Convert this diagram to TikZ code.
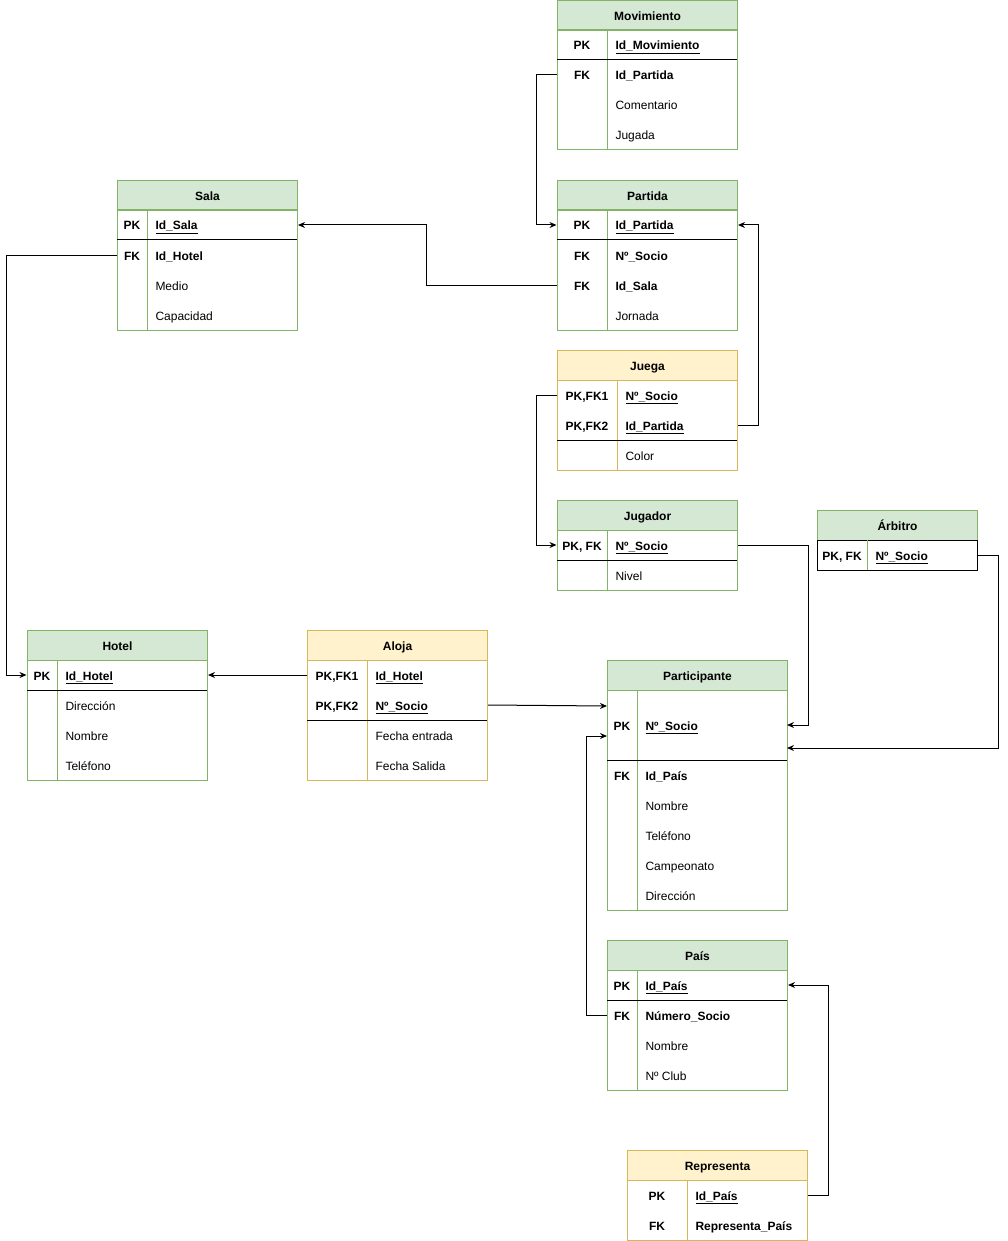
\documentclass[tikz,border=0pt]{standalone}
\usepackage{fontspec}
\setmainfont{Liberation Sans}
\usetikzlibrary{arrows.meta}
\definecolor{verdefondo}{HTML}{D5E8D4}
\definecolor{verdeborde}{HTML}{82B366}
\definecolor{amarillofondo}{HTML}{FFF2CC}
\definecolor{amarilloborde}{HTML}{D6B656}
\newcommand\letra{\fontsize{12}{14}\selectfont}

\tikzset{
  cabecera/.style={draw=#1borde, fill=#1fondo, minimum width=180pt, minimum height=30pt,
    inner sep=0pt, anchor=north west, font=\letra\bfseries, text height=10pt, text depth=0pt},
  clave/.style={minimum width=#1, minimum height=30pt, inner sep=0pt, font=\letra\bfseries,
    text height=10pt, text depth=0pt},
  campo/.style={anchor=west, inner sep=0pt, font=\letra, text height=10pt, text depth=0pt},
  enlace/.style={-{Stealth[length=7pt,width=6pt]}, line width=1pt},
}

\begin{document}
\begin{tikzpicture}[x=1pt, y=-1pt, line width=1pt]
			%%%%% LIENZO %%%%%
			\fill[white] (0,0) rectangle (1007,1241);
			\useasboundingbox (0,0) rectangle (1007,1241);
			
			%%%%% MOVIMIENTO %%%%%
			\node[cabecera=verde] (movimiento) at (557,0) {Movimiento};
			\draw[verdeborde] (557,30) rectangle (737,150);
			\draw[verdeborde] (607,30) -- (607,150);
			\draw (557,60) -- (737,60);
			\node[clave=50pt] (mov-pk) at (582,45) {PK};
			\node[campo] (mov-pk-c) at (615,45) {\textbf{\underline{Id\_Movimiento}}};
			\node[clave=50pt] (mov-fk) at (582,75) {FK};
			\node[campo] (mov-fk-c) at (615,75) {\textbf{Id\_Partida}};
			\node[campo] (mov-com) at (615,105) {Comentario};
			\node[campo] (mov-jug) at (615,135) {Jugada};
			
			%%%%% SALA %%%%%
			\node[cabecera=verde] (sala) at (117,180) {Sala};
			\draw[verdeborde] (117,210) rectangle (297,330);
			\draw[verdeborde] (147,210) -- (147,330);
			\draw (117,240) -- (297,240);
			\node[clave=30pt] (sala-pk) at (132,225) {PK};
			\node[campo] (sala-pk-c) at (155,225) {\textbf{\underline{Id\_Sala}}};
			\node[clave=30pt] (sala-fk) at (132,255) {FK};
			\node[campo] (sala-fk-c) at (155,255) {\textbf{Id\_Hotel}};
			\node[campo] (sala-med) at (155,285) {Medio};
			\node[campo] (sala-cap) at (155,315) {Capacidad};
			
			%%%%% PARTIDA %%%%%
			\node[cabecera=verde] (partida) at (557,180) {Partida};
			\draw[verdeborde] (557,210) rectangle (737,330);
			\draw[verdeborde] (607,210) -- (607,330);
			\draw (557,240) -- (737,240);
			\node[clave=50pt] (par-pk) at (582,225) {PK};
			\node[campo] (par-pk-c) at (615,225) {\textbf{\underline{Id\_Partida}}};
			\node[clave=50pt] (par-socio) at (582,255) {FK};
			\node[campo] (par-socio-c) at (615,255) {\textbf{Nº\_Socio}};
			\node[clave=50pt] (par-sala) at (582,285) {FK};
			\node[campo] (par-sala-c) at (615,285) {\textbf{Id\_Sala}};
			\node[campo] (par-jor) at (615,315) {Jornada};
			
			%%%%% JUEGA %%%%%
			\node[cabecera=amarillo] (juega) at (557,350) {Juega};
			\draw[amarilloborde] (557,380) rectangle (737,470);
			\draw[amarilloborde] (617,380) -- (617,470);
			\draw (557,440) -- (737,440);
			\node[clave=60pt] (jue-fk1) at (587,395) {PK,FK1};
			\node[campo] (jue-fk1-c) at (625,395) {\textbf{\underline{Nº\_Socio}}};
			\node[clave=60pt] (jue-fk2) at (587,425) {PK,FK2};
			\node[campo] (jue-fk2-c) at (625,425) {\textbf{\underline{Id\_Partida}}};
			\node[campo] (jue-col) at (625,455) {Color};
			
			%%%%% JUGADOR %%%%%
			\node[cabecera=verde] (jugador) at (557,500) {Jugador};
			\draw[verdeborde] (557,530) rectangle (737,590);
			\draw[verdeborde] (607,530) -- (607,590);
			\draw (557,560) -- (737,560);
			\node[clave=50pt] (jug-pk) at (582,545) {PK, FK};
			\node[campo] (jug-pk-c) at (615,545) {\textbf{\underline{Nº\_Socio}}};
			\node[campo] (jug-niv) at (615,575) {Nivel};
			
			%%%%% ARBITRO %%%%%
			\node[cabecera=verde, minimum width=160pt] (arbitro) at (817,510) {Árbitro};
			\draw (817,540) rectangle (977,570);
			\draw[verdeborde] (867,540) -- (867,570);
			\node[clave=50pt] (arb-pk) at (842,555) {PK, FK};
			\node[campo] (arb-pk-c) at (875,555) {\textbf{\underline{Nº\_Socio}}};
			
			%%%%% HOTEL %%%%%
			\node[cabecera=verde] (hotel) at (27,630) {Hotel};
			\draw[verdeborde] (27,660) rectangle (207,780);
			\draw[verdeborde] (57,660) -- (57,780);
			\draw (27,690) -- (207,690);
			\node[clave=30pt] (hot-pk) at (42,675) {PK};
			\node[campo] (hot-pk-c) at (65,675) {\textbf{\underline{Id\_Hotel}}};
			\node[campo] (hot-dir) at (65,705) {Dirección};
			\node[campo] (hot-nom) at (65,735) {Nombre};
			\node[campo] (hot-tel) at (65,765) {Teléfono};
			
			%%%%% ALOJA %%%%%
			\node[cabecera=amarillo] (aloja) at (307,630) {Aloja};
			\draw[amarilloborde] (307,660) rectangle (487,780);
			\draw[amarilloborde] (367,660) -- (367,780);
			\draw (307,720) -- (487,720);
			\node[clave=60pt] (alo-fk1) at (337,675) {PK,FK1};
			\node[campo] (alo-fk1-c) at (375,675) {\textbf{\underline{Id\_Hotel}}};
			\node[clave=60pt] (alo-fk2) at (337,705) {PK,FK2};
			\node[campo] (alo-fk2-c) at (375,705) {\textbf{\underline{Nº\_Socio}}};
			\node[campo] (alo-ent) at (375,735) {Fecha entrada};
			\node[campo] (alo-sal) at (375,765) {Fecha Salida};
			
			%%%%% PARTICIPANTE %%%%%
			\node[cabecera=verde] (participante) at (607,660) {Participante};
			\draw[verdeborde] (607,690) rectangle (787,910);
			\draw[verdeborde] (637,690) -- (637,910);
			\draw (607,760) -- (787,760);
			\node[clave=30pt, minimum height=70pt] (part-pk) at (622,725) {PK};
			\node[campo] (part-pk-c) at (645,725) {\textbf{\underline{Nº\_Socio}}};
			\node[clave=30pt] (part-fk) at (622,775) {FK};
			\node[campo] (part-fk-c) at (645,775) {\textbf{Id\_País}};
			\node[campo] (part-nom) at (645,805) {Nombre};
			\node[campo] (part-tel) at (645,835) {Teléfono};
			\node[campo] (part-cam) at (645,865) {Campeonato};
			\node[campo] (part-dir) at (645,895) {Dirección};
			\coordinate (part-l1) at (607,706);
			\coordinate (part-l2) at (607,736);
			\coordinate (part-r1) at (787,725);
			\coordinate (part-r2) at (787,748);
			
			%%%%% PAIS %%%%%
			\node[cabecera=verde] (pais) at (607,940) {País};
			\draw[verdeborde] (607,970) rectangle (787,1090);
			\draw[verdeborde] (637,970) -- (637,1090);
			\draw (607,1000) -- (787,1000);
			\node[clave=30pt] (pais-pk) at (622,985) {PK};
			\node[campo] (pais-pk-c) at (645,985) {\textbf{\underline{Id\_País}}};
			\node[clave=30pt] (pais-fk) at (622,1015) {FK};
			\node[campo] (pais-fk-c) at (645,1015) {\textbf{Número\_Socio}};
			\node[campo] (pais-nom) at (645,1045) {Nombre};
			\node[campo] (pais-club) at (645,1075) {Nº Club};
			
			%%%%% REPRESENTA %%%%%
			\node[cabecera=amarillo] (representa) at (627,1150) {Representa};
			\draw[amarilloborde] (627,1180) rectangle (807,1240);
			\draw[amarilloborde] (687,1180) -- (687,1240);
			\node[clave=60pt] (rep-pk) at (657,1195) {PK};
			\node[campo] (rep-pk-c) at (695,1195) {\textbf{\underline{Id\_País}}};
			\node[clave=60pt] (rep-fk) at (657,1225) {FK};
			\node[campo] (rep-fk-c) at (695,1225) {\textbf{Representa\_País}};
			
			%%%%% ENLACES %%%%%
			\draw[enlace] (mov-fk.west) -- ++(-20,0) |- (par-pk.west);
			\draw[enlace] (par-sala.west) -- ++(-130,0) |- (sala-pk -| sala.east);
			\draw[enlace] (sala-fk.west) -- ++(-110,0) |- (hot-pk.west);
			\draw[enlace] (jue-fk2 -| juega.east) -- ++(20,0) |- (par-pk -| partida.east);
			\draw[enlace] (jue-fk1.west) -- ++(-20,0) |- (jug-pk.west);
			\draw[enlace] (jug-pk -| jugador.east) -- ++(70,0) |- (part-r1);
			\draw[enlace] (arb-pk -| arbitro.east) -- ++(20,0) |- (part-r2);
			\draw[enlace] (alo-fk1.west) -- (hot-pk -| hotel.east);
			\draw[enlace] (alo-fk2 -| aloja.east) -- (part-l1);
			\draw[enlace] (pais-fk.west) -- ++(-20,0) |- (part-l2);
			\draw[enlace] (rep-pk -| representa.east) -- ++(20,0) |- (pais-pk -| pais.east);
			
			%%%%% FIN %%%%%
		\end{tikzpicture}
\end{document}
